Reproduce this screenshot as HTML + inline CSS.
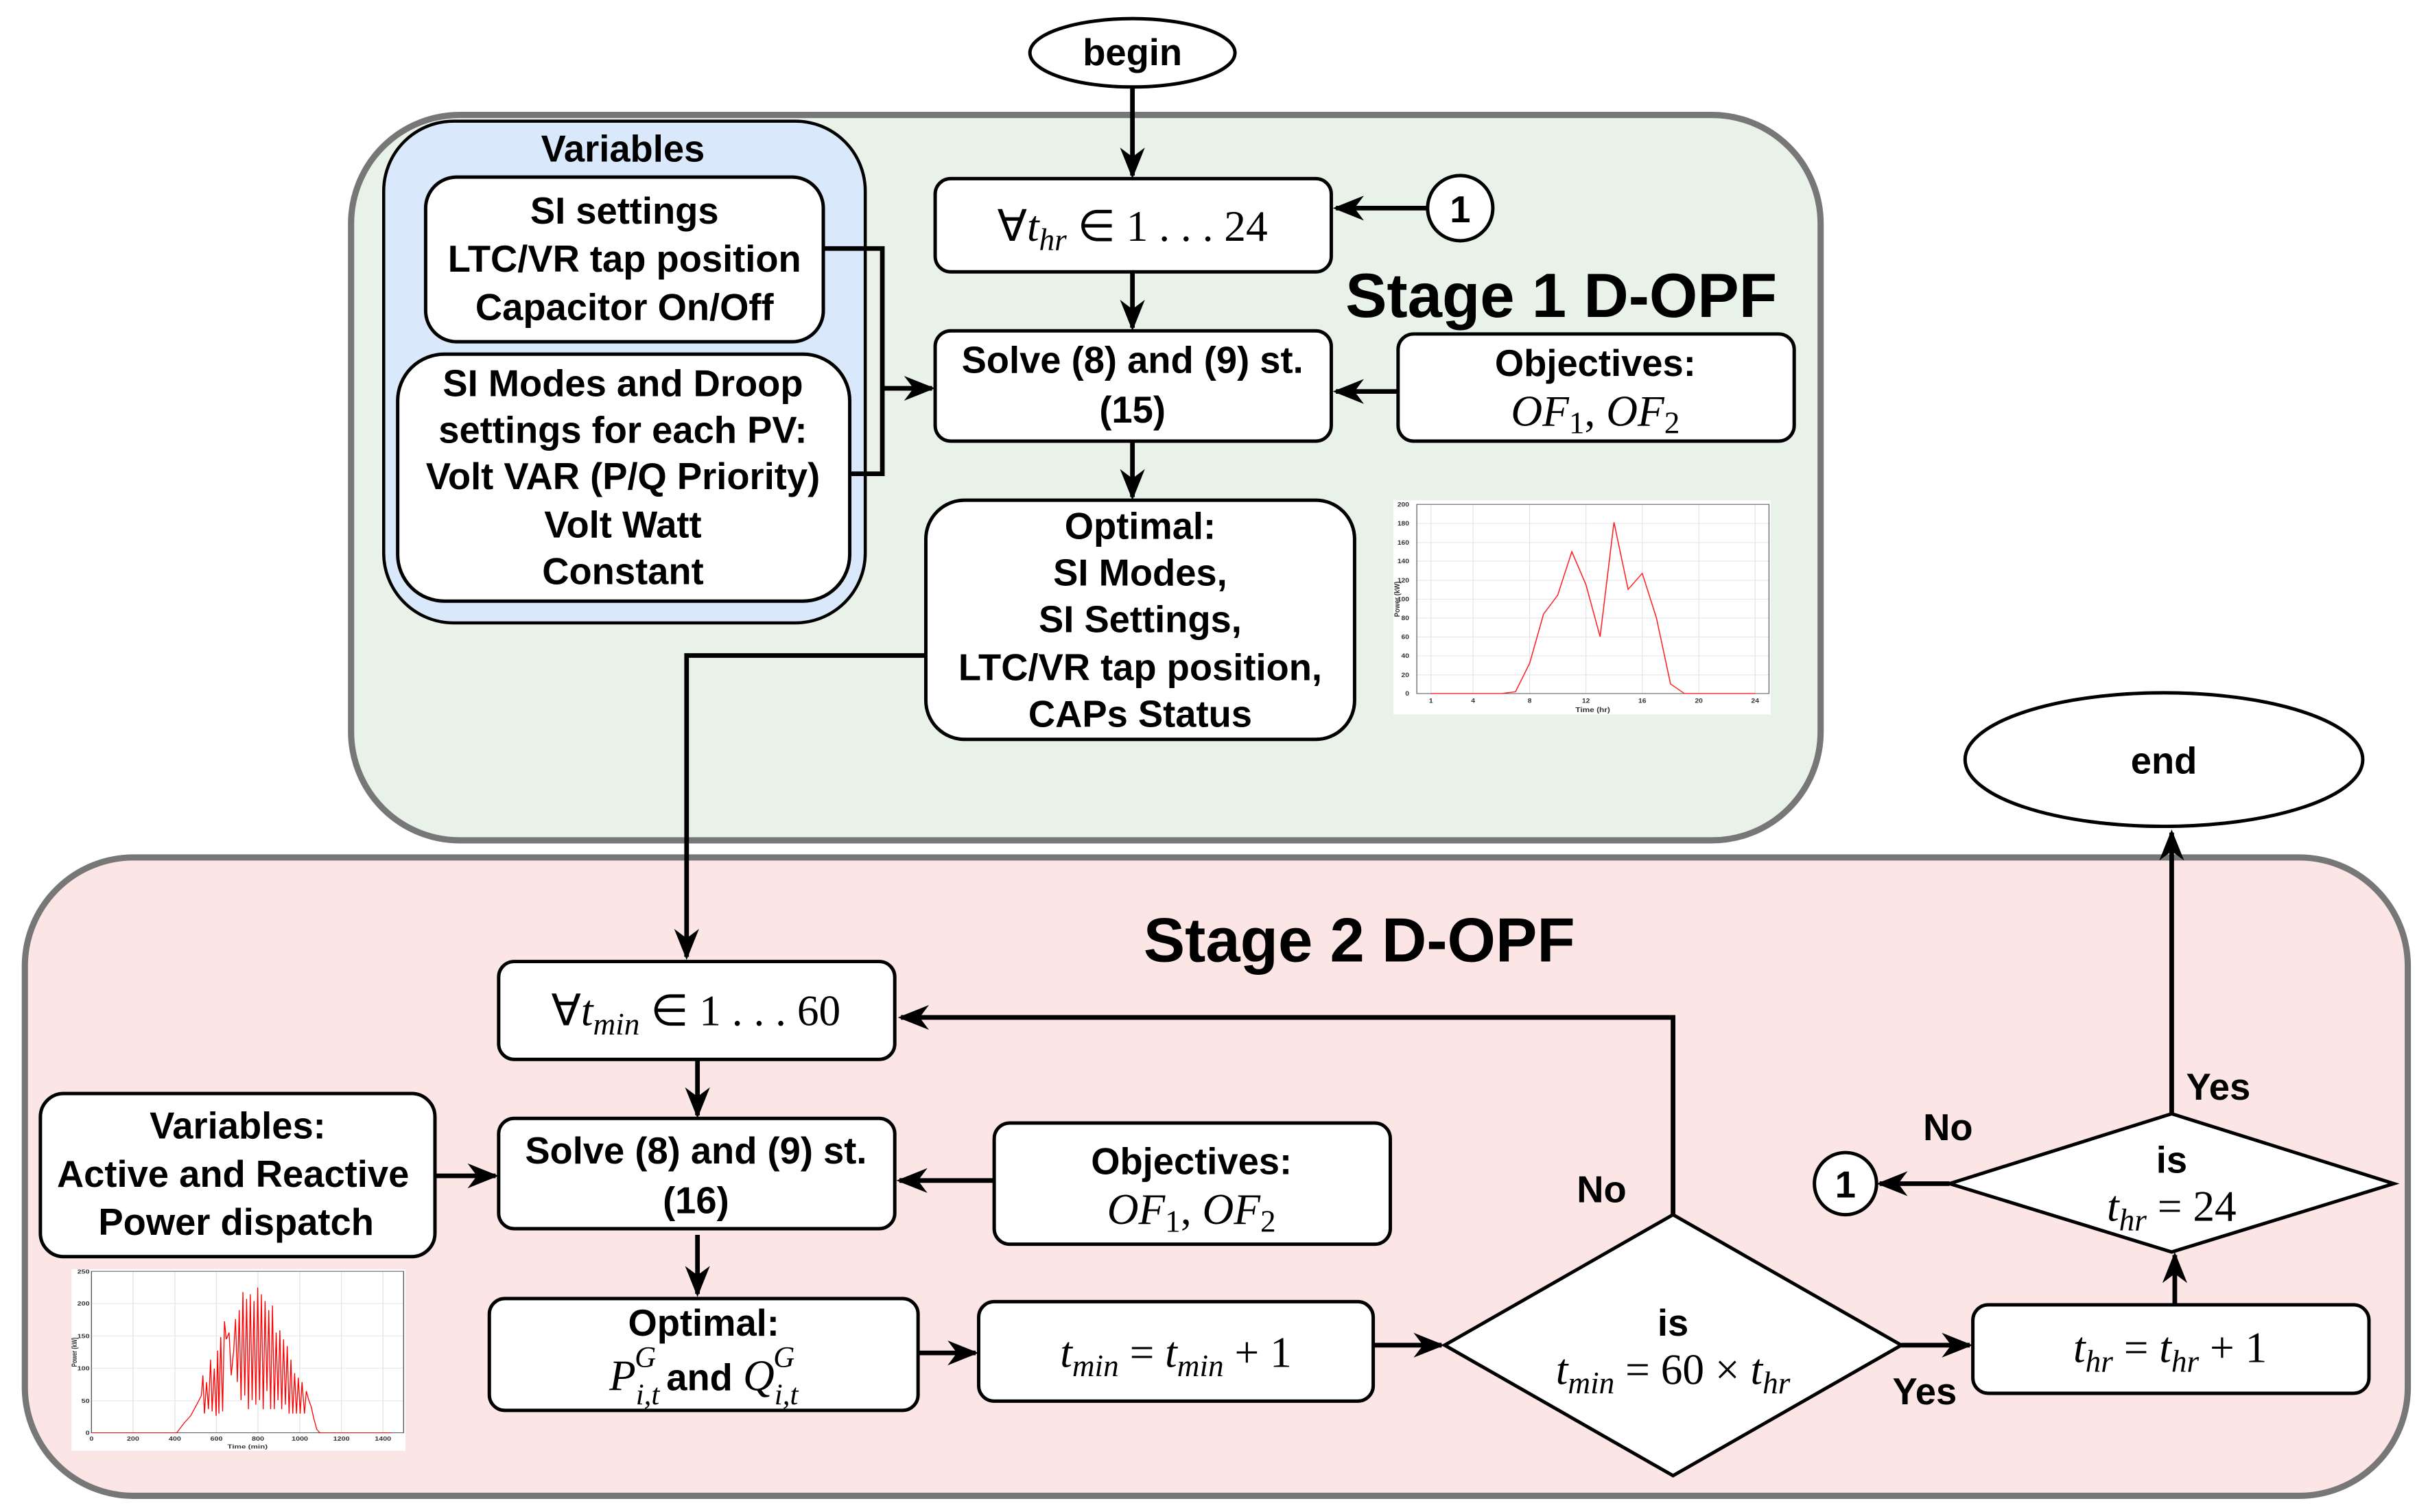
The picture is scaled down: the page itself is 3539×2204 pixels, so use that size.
<!DOCTYPE html>
<html><head><meta charset="utf-8"><style>
html,body{margin:0;padding:0;background:#fff;}
svg{display:block;}
.t{font-family:"Liberation Sans",sans-serif;font-weight:bold;font-size:24px;fill:#000;text-anchor:middle;}
.big{font-family:"Liberation Sans",sans-serif;font-weight:bold;font-size:40px;fill:#000;text-anchor:middle;}
.m{font-family:"Liberation Serif",serif;font-size:28px;fill:#000;text-anchor:middle;}
.m tspan.i{font-style:italic;}
.box{fill:#fff;stroke:#000;stroke-width:2.2;}
.ln{fill:none;stroke:#000;stroke-width:3;}
.ax{font-family:"Liberation Sans",sans-serif;font-weight:bold;fill:#333;text-anchor:middle;}
</style></head><body>
<svg width="3539" height="2204" viewBox="0 0 1563 973.4" preserveAspectRatio="none" xmlns="http://www.w3.org/2000/svg">
<defs>
<marker id="a" viewBox="0 0 20 20" refX="18" refY="10" markerWidth="22" markerHeight="20" markerUnits="userSpaceOnUse" orient="auto">
<path d="M0,2 L20,10 L0,18 L6,10 Z" fill="#000"/>
</marker>
</defs>
<rect width="1563" height="973.4" fill="#fff"/>
<!-- Stage 1 -->
<rect x="226" y="74" width="946" height="467" rx="70" fill="#e8f2e8" stroke="#777" stroke-width="4"/>
<rect x="247" y="78" width="310" height="323" rx="45" fill="#dae8fc" stroke="#000" stroke-width="2"/>
<text class="t" x="401" y="104">Variables</text>
<rect class="box" x="274" y="114" width="256" height="106" rx="20"/>
<text class="t" x="402" y="144">SI settings</text>
<text class="t" x="402" y="175">LTC/VR tap position</text>
<text class="t" x="402" y="206">Capacitor On/Off</text>
<rect class="box" x="256" y="228" width="291" height="159" rx="30"/>
<text class="t" x="401" y="255">SI Modes and Droop</text>
<text class="t" x="401" y="285">settings for each PV:</text>
<text class="t" x="401" y="315">Volt VAR (P/Q Priority)</text>
<text class="t" x="401" y="346">Volt Watt</text>
<text class="t" x="401" y="376">Constant</text>
<path class="ln" d="M530,160 H568 V305 H547"/>
<line class="ln" x1="568" y1="250" x2="600" y2="250" marker-end="url(#a)"/>

<ellipse cx="729" cy="34" rx="66" ry="22" fill="#fff" stroke="#000" stroke-width="2.2"/>
<text class="t" x="729" y="42">begin</text>
<line class="ln" x1="729" y1="56" x2="729" y2="113" marker-end="url(#a)"/>

<rect class="box" x="602" y="115" width="255" height="60" rx="10"/>
<text class="m" x="729" y="155">∀<tspan class="i">t</tspan><tspan class="i" font-size="20" dy="6">hr</tspan><tspan dy="-6"> ∈ 1 . . . 24</tspan></text>
<circle cx="940" cy="134" r="21" fill="#fff" stroke="#000" stroke-width="2.2"/>
<text class="t" x="940" y="143">1</text>
<line class="ln" x1="919" y1="134" x2="860" y2="134" marker-end="url(#a)"/>
<line class="ln" x1="729" y1="175" x2="729" y2="211" marker-end="url(#a)"/>

<text class="big" x="1005" y="204">Stage 1 D-OPF</text>

<rect class="box" x="602" y="213" width="255" height="71" rx="10"/>
<text class="t" x="729" y="240">Solve (8) and (9) st.</text>
<text class="t" x="729" y="272">(15)</text>
<rect class="box" x="900" y="215" width="255" height="69" rx="10"/>
<text class="t" x="1027" y="242">Objectives:</text>
<text class="m" x="1027" y="274"><tspan class="i">OF</tspan><tspan font-size="20" dy="5">1</tspan><tspan dy="-5">, </tspan><tspan class="i">OF</tspan><tspan font-size="20" dy="5">2</tspan></text>
<line class="ln" x1="900" y1="252" x2="860" y2="252" marker-end="url(#a)"/>
<line class="ln" x1="729" y1="284" x2="729" y2="320" marker-end="url(#a)"/>

<rect class="box" x="596" y="322" width="276" height="154" rx="25"/>
<text class="t" x="734" y="347">Optimal:</text>
<text class="t" x="734" y="377">SI Modes,</text>
<text class="t" x="734" y="407">SI Settings,</text>
<text class="t" x="734" y="438">LTC/VR tap position,</text>
<text class="t" x="734" y="468">CAPs Status</text>

<!-- chart 1 -->
<svg x="897" y="322" width="243" height="138" viewBox="62 90 1388 920" preserveAspectRatio="none">
<rect x="62" y="90" width="1388" height="920" fill="#fff"/>
<g stroke="#e4e4e4" stroke-width="3">
<line x1="148" y1="190" x2="1443" y2="190"/><line x1="148" y1="272" x2="1443" y2="272"/><line x1="148" y1="352" x2="1443" y2="352"/><line x1="148" y1="434" x2="1443" y2="434"/><line x1="148" y1="515" x2="1443" y2="515"/><line x1="148" y1="596" x2="1443" y2="596"/><line x1="148" y1="677" x2="1443" y2="677"/><line x1="148" y1="758" x2="1443" y2="758"/><line x1="148" y1="840" x2="1443" y2="840"/>
<line x1="200" y1="108" x2="200" y2="920"/><line x1="355" y1="108" x2="355" y2="920"/><line x1="563" y1="108" x2="563" y2="920"/><line x1="770" y1="108" x2="770" y2="920"/><line x1="977" y1="108" x2="977" y2="920"/><line x1="1185" y1="108" x2="1185" y2="920"/><line x1="1392" y1="108" x2="1392" y2="920"/>
</g>
<rect x="148" y="108" width="1295" height="812" fill="none" stroke="#555" stroke-width="3"/>
<polyline fill="none" stroke="#f22" stroke-width="4" points="200,920 459,920 511,912 563,790 614,579 666,498 718,311 770,453 822,676 873,185 925,473 977,404 1029,595 1081,879 1132,920 1392,920"/>
<g class="ax" font-size="26">
<text x="200" y="960">1</text><text x="355" y="960">4</text><text x="563" y="960">8</text><text x="770" y="960">12</text><text x="977" y="960">16</text><text x="1185" y="960">20</text><text x="1392" y="960">24</text>
<text x="795" y="1000" font-size="30">Time (hr)</text>
<text x="120" y="118" text-anchor="end">200</text><text x="120" y="199" text-anchor="end">180</text><text x="120" y="281" text-anchor="end">160</text><text x="120" y="361" text-anchor="end">140</text><text x="120" y="443" text-anchor="end">120</text><text x="120" y="524" text-anchor="end">100</text><text x="120" y="605" text-anchor="end">80</text><text x="120" y="686" text-anchor="end">60</text><text x="120" y="767" text-anchor="end">40</text><text x="120" y="849" text-anchor="end">20</text><text x="120" y="929" text-anchor="end">0</text>
<text x="85" y="515" font-size="28" transform="rotate(-90 85 515)">Power (kW)</text>
</g>
</svg>

<!-- Stage 2 -->
<rect x="16" y="552" width="1534" height="411" rx="70" fill="#fbe5e5" stroke="#777" stroke-width="4"/>
<text class="big" x="875" y="619">Stage 2 D-OPF</text>

<path class="ln" d="M596,422 H442 V616" marker-end="url(#a)"/>

<rect class="box" x="321" y="619" width="255" height="63" rx="10"/>
<text class="m" x="448" y="660">∀<tspan class="i">t</tspan><tspan class="i" font-size="20" dy="6">min</tspan><tspan dy="-6"> ∈ 1 . . . 60</tspan></text>
<line class="ln" x1="449" y1="682" x2="449" y2="718" marker-end="url(#a)"/>
<rect class="box" x="321" y="720" width="255" height="71" rx="10"/>
<text class="t" x="448" y="749">Solve (8) and (9) st.</text>
<text class="t" x="448" y="781">(16)</text>
<rect class="box" x="26" y="704" width="254" height="105" rx="15"/>
<text class="t" x="153" y="733">Variables:</text>
<text class="t" x="150" y="764">Active and Reactive</text>
<text class="t" x="152" y="795">Power dispatch</text>
<line class="ln" x1="280" y1="757" x2="319" y2="757" marker-end="url(#a)"/>
<rect class="box" x="640" y="723" width="255" height="78" rx="10"/>
<text class="t" x="767" y="756">Objectives:</text>
<text class="m" x="767" y="788"><tspan class="i">OF</tspan><tspan font-size="20" dy="5">1</tspan><tspan dy="-5">, </tspan><tspan class="i">OF</tspan><tspan font-size="20" dy="5">2</tspan></text>
<line class="ln" x1="640" y1="760" x2="579" y2="760" marker-end="url(#a)"/>
<line class="ln" x1="449" y1="795" x2="449" y2="833" marker-end="url(#a)"/>

<rect class="box" x="315" y="836" width="276" height="72" rx="10"/>
<text class="t" x="453" y="860">Optimal:</text>
<text class="m" x="453" y="895"><tspan class="i">P</tspan><tspan class="i" font-size="19" dy="9">i,t</tspan><tspan class="i" font-size="19" dx="-16" dy="-24">G</tspan><tspan font-family="Liberation Sans" font-weight="bold" font-size="24" dy="15">  and  </tspan><tspan class="i" dy="0">Q</tspan><tspan class="i" font-size="19" dy="9">i,t</tspan><tspan class="i" font-size="19" dx="-16" dy="-24">G</tspan></text>
<line class="ln" x1="591" y1="871" x2="628" y2="871" marker-end="url(#a)"/>

<!-- chart 2 -->
<svg x="46" y="817" width="215" height="117" viewBox="233 118 1085 807" preserveAspectRatio="none">
<rect x="233" y="118" width="1085" height="807" fill="#fff"/>
<g stroke="#e4e4e4" stroke-width="3">
<line x1="298" y1="271" x2="1312" y2="271"/><line x1="298" y1="415" x2="1312" y2="415"/><line x1="298" y1="558" x2="1312" y2="558"/><line x1="298" y1="703" x2="1312" y2="703"/>
<line x1="433" y1="128" x2="433" y2="845"/><line x1="569" y1="128" x2="569" y2="845"/><line x1="704" y1="128" x2="704" y2="845"/><line x1="839" y1="128" x2="839" y2="845"/><line x1="975" y1="128" x2="975" y2="845"/><line x1="1110" y1="128" x2="1110" y2="845"/><line x1="1245" y1="128" x2="1245" y2="845"/>
</g>
<rect x="298" y="128" width="1014" height="717" fill="none" stroke="#555" stroke-width="3"/>
<polyline fill="none" stroke="#f00" stroke-width="3" points="298,845 575,845 600,800 620,770 640,720 655,680 660,590 665,760 672,620 678,740 685,520 690,750 697,560 703,770 708,480 712,760 718,420 724,750 730,350 736,430 745,400 752,590 760,480 766,340 772,620 778,300 784,700 790,220 796,680 802,250 808,740 814,230 820,700 826,260 832,720 838,200 844,700 850,230 856,740 862,260 868,660 874,300 880,740 886,280 892,740 898,400 904,700 910,390 916,740 922,430 928,720 934,460 940,760 946,520 952,760 958,580 964,760 970,600 976,760 982,620 990,760 996,660 1004,700 1012,730 1020,780 1030,830 1040,845 1272,845"/>
<g class="ax" font-size="24">
<text x="298" y="880">0</text><text x="433" y="880">200</text><text x="569" y="880">400</text><text x="704" y="880">600</text><text x="839" y="880">800</text><text x="975" y="880">1000</text><text x="1110" y="880">1200</text><text x="1245" y="880">1400</text>
<text x="805" y="915" font-size="26">Time (min)</text>
<text x="292" y="138" text-anchor="end">250</text><text x="292" y="280" text-anchor="end">200</text><text x="292" y="424" text-anchor="end">150</text><text x="292" y="567" text-anchor="end">100</text><text x="292" y="712" text-anchor="end">50</text><text x="292" y="854" text-anchor="end">0</text>
<text x="250" y="487" font-size="24" transform="rotate(-90 250 487)">Power (kW)</text>
</g>
</svg>

<rect class="box" x="630" y="838" width="254" height="64" rx="10"/>
<text class="m" x="757" y="880"><tspan class="i">t</tspan><tspan class="i" font-size="20" dy="6">min</tspan><tspan dy="-6"> = </tspan><tspan class="i">t</tspan><tspan class="i" font-size="20" dy="6">min</tspan><tspan dy="-6"> + 1</tspan></text>
<line class="ln" x1="884" y1="866" x2="928" y2="866" marker-end="url(#a)"/>

<polygon points="930,866 1077,782 1224,866 1077,950" fill="#fff" stroke="#000" stroke-width="2.2"/>
<text class="t" x="1077" y="860">is</text>
<text class="m" x="1077" y="891"><tspan class="i">t</tspan><tspan class="i" font-size="20" dy="6">min</tspan><tspan dy="-6"> = 60 × </tspan><tspan class="i">t</tspan><tspan class="i" font-size="20" dy="6">hr</tspan></text>
<path class="ln" d="M1077,782 V655 H580" marker-end="url(#a)"/>
<text class="t" x="1031" y="774">No</text>
<line class="ln" x1="1224" y1="866" x2="1268" y2="866" marker-end="url(#a)"/>
<text class="t" x="1239" y="904">Yes</text>

<rect class="box" x="1270" y="840" width="255" height="57" rx="10"/>
<text class="m" x="1397" y="877"><tspan class="i">t</tspan><tspan class="i" font-size="20" dy="6">hr</tspan><tspan dy="-6"> = </tspan><tspan class="i">t</tspan><tspan class="i" font-size="20" dy="6">hr</tspan><tspan dy="-6"> + 1</tspan></text>
<line class="ln" x1="1400" y1="840" x2="1400" y2="808" marker-end="url(#a)"/>

<polygon points="1255,762 1398,717 1541,762 1398,806" fill="#fff" stroke="#000" stroke-width="2.2"/>
<text class="t" x="1398" y="755">is</text>
<text class="m" x="1398" y="786"><tspan class="i">t</tspan><tspan class="i" font-size="20" dy="6">hr</tspan><tspan dy="-6"> = 24</tspan></text>
<line class="ln" x1="1255" y1="762" x2="1210" y2="762" marker-end="url(#a)"/>
<circle cx="1188" cy="762" r="20" fill="#fff" stroke="#000" stroke-width="2.2"/>
<text class="t" x="1188" y="771">1</text>
<text class="t" x="1254" y="734">No</text>
<line class="ln" x1="1398" y1="717" x2="1398" y2="536" marker-end="url(#a)"/>
<text class="t" x="1428" y="708">Yes</text>

<ellipse cx="1393" cy="489" rx="128" ry="43" fill="#fff" stroke="#000" stroke-width="2.2"/>
<text class="t" x="1393" y="498">end</text>
</svg>
</body></html>
